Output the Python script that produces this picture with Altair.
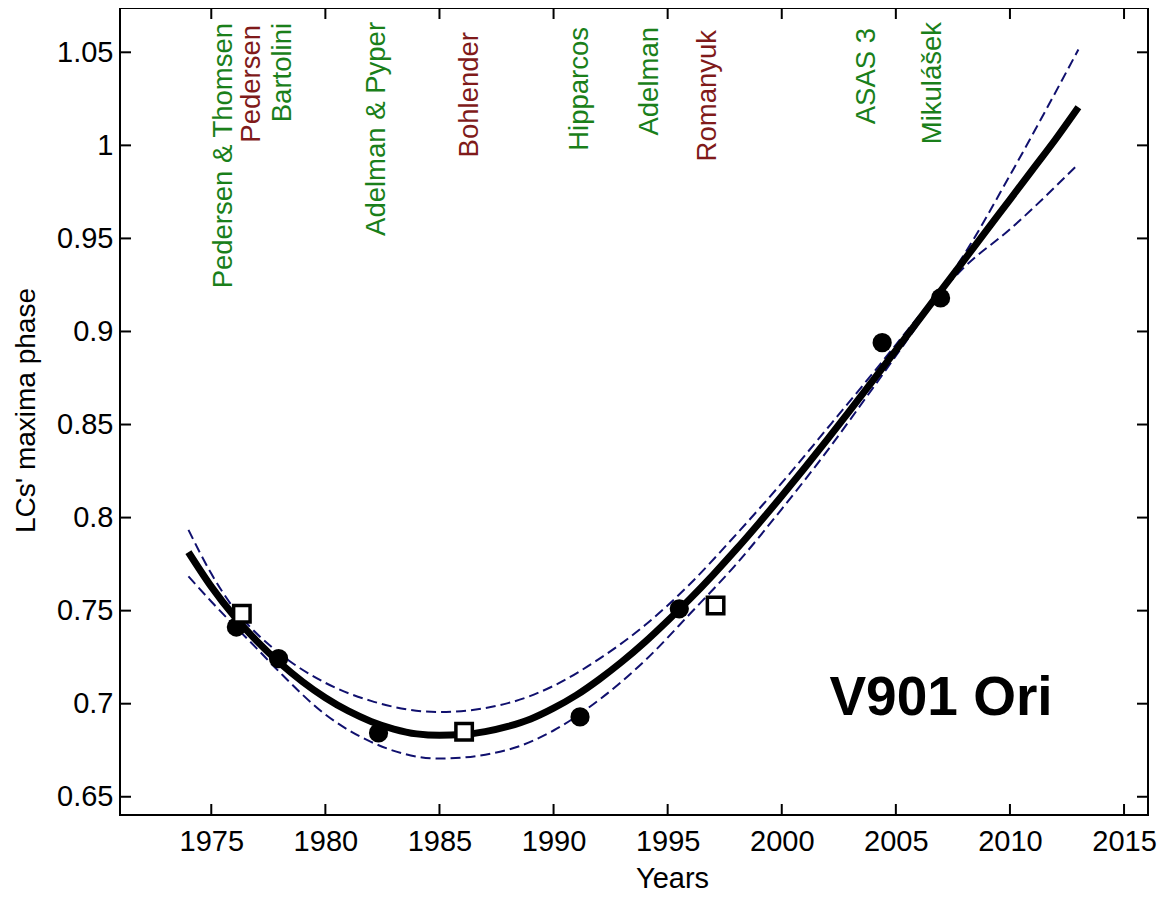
import altair as alt
import pandas as pd

# ---- data ----
fit_years = [1974, 1975, 1976, 1977, 1978, 1979, 1980, 1981, 1982, 1983, 1984, 1985,
             1986, 1987, 1988, 1989, 1990, 1991, 1992, 1993, 1994, 1995, 1996, 1997,
             1998, 1999, 2000, 2001, 2002, 2003, 2004, 2005, 2006, 2007, 2008, 2009,
             2010, 2011, 2012, 2013]
fit_values = [0.7814, 0.7629, 0.7471, 0.7336, 0.7219, 0.7118, 0.7032, 0.6961, 0.6905,
              0.6864, 0.6838, 0.6830, 0.6834, 0.6850, 0.6878, 0.6918, 0.6976, 0.7046,
              0.7131, 0.7226, 0.7331, 0.7446, 0.7566, 0.7694, 0.7829, 0.7970, 0.8116,
              0.8266, 0.8420, 0.8577, 0.8737, 0.8899, 0.9061, 0.9223, 0.9385, 0.9547,
              0.9709, 0.9871, 1.0033, 1.0205]

band_years = [1974, 1975, 1976, 1977, 1978, 1980, 1982, 1985, 1988, 1990, 1992, 1994,
              1996, 1998, 2000, 2002, 2004, 2006, 2007, 2008, 2010, 2013]
band_upper = [0.7934, 0.7699, 0.7511, 0.7376, 0.7269, 0.7112, 0.7015, 0.6955, 0.7003,
              0.7096, 0.7241, 0.7421, 0.7646, 0.7909, 0.8186, 0.8480, 0.8777, 0.9081,
              0.9233, 0.9415, 0.9839, 1.0515]
band_lower = [0.7684, 0.7549, 0.7421, 0.7296, 0.7169, 0.6942, 0.6795, 0.6705, 0.6753,
              0.6856, 0.7021, 0.7231, 0.7486, 0.7749, 0.8046, 0.8360, 0.8697, 0.9041,
              0.9213, 0.9345, 0.9549, 0.9900]

circle_years = [1976.1, 1977.95, 1982.33, 1991.16, 1995.51, 2004.4, 2006.96]
circle_values = [0.7412, 0.7242, 0.6843, 0.6929, 0.7510, 0.8940, 0.9180]

square_years = [1976.34, 1986.08, 1997.1]
square_values = [0.7483, 0.6849, 0.7528]

label_names = ["Pedersen & Thomsen", "Pedersen", "Bartolini", "Adelman & Pyper",
               "Bohlender", "Hipparcos", "Adelman", "Romanyuk", "ASAS 3", "Mikulášek"]
label_years = [1975.57, 1976.8, 1978.15, 1982.27, 1986.34, 1991.16, 1994.23, 1996.77,
               2003.73, 2006.62]
label_tops = [1.0658, 1.0647, 1.0658, 1.0663, 1.0609, 1.0636, 1.0636, 1.0620, 1.0631,
              1.0663]
label_kind = ["lc", "sq", "lc", "lc", "sq", "lc", "lc", "sq", "lc", "lc"]

star_name = ["V901 Ori"]
star_year = [2006.98]
star_value = [0.6939]

x_ticks = [1975, 1980, 1985, 1990, 1995, 2000, 2005, 2010, 2015]
y_ticks = [0.65, 0.7, 0.75, 0.8, 0.85, 0.9, 0.95, 1.0, 1.05]

# ---- tables ----
fit_df = pd.DataFrame({"year": fit_years, "value": fit_values})
band_df = pd.concat([
    pd.DataFrame({"year": band_years, "value": band_upper, "side": "upper"}),
    pd.DataFrame({"year": band_years, "value": band_lower, "side": "lower"}),
])
circ_df = pd.DataFrame({"year": circle_years, "value": circle_values})
sq_df = pd.DataFrame({"year": square_years, "value": square_values})
lab_df = pd.DataFrame({"name": label_names, "year": label_years, "value": label_tops,
                       "kind": label_kind})
star_df = pd.DataFrame({"name": star_name, "year": star_year, "value": star_value})
xt_df = pd.DataFrame({"year": x_ticks})
yt_df = pd.DataFrame({"value": y_ticks})

W, H = 1028, 807
FONT = "Liberation Sans"
xs = alt.Scale(domain=[1971.0, 2016.05], nice=False, zero=False)
ys = alt.Scale(domain=[0.6402, 1.0738], nice=False, zero=False)

x_axis = alt.Axis(values=x_ticks, format="d", labelFontSize=29, labelColor="black",
                  labelPadding=12, labelFlush=False, title="Years", titleFontSize=29,
                  titleFontWeight="normal", titleColor="black", titleX=552, titleY=72,
                  titleBaseline="alphabetic", titleAlign="center", grid=False,
                  domain=False, ticks=False, labelFont=FONT, titleFont=FONT)
y_axis = alt.Axis(values=y_ticks, format="~g", labelFontSize=29, labelColor="black",
                  labelPadding=7, labelFlush=False, title="LCs' maxima phase",
                  titleFontSize=28, titleFontWeight="normal", titleColor="black",
                  titleAngle=270, titleX=-94, titleY=402, titleAlign="center",
                  titleBaseline="middle", grid=False, domain=False, ticks=False,
                  labelFont=FONT, titleFont=FONT)

X = alt.X("year:Q", scale=xs, axis=x_axis)
Y = alt.Y("value:Q", scale=ys, axis=y_axis)

band = alt.Chart(band_df).mark_line(
    color="#10106e", strokeWidth=2, strokeDash=[10, 5], interpolate="monotone"
).encode(x=X, y=Y, detail="side:N")

fit = alt.Chart(fit_df).mark_line(
    color="black", strokeWidth=7, interpolate="monotone", strokeCap="butt"
).encode(x=X, y=Y)

circles = alt.Chart(circ_df).mark_point(
    shape="circle", filled=True, color="black", size=370, opacity=1
).encode(x=X, y=Y)

squares = alt.Chart(sq_df).mark_point(
    shape="square", filled=False, fill="white", fillOpacity=1, stroke="black",
    strokeWidth=3.5, size=270, opacity=1
).encode(x=X, y=Y)

labels = alt.Chart(lab_df).mark_text(
    angle=270, align="right", baseline="middle", fontSize=27.5, font=FONT
).encode(
    x=X, y=Y, text="name:N",
    color=alt.Color("kind:N", scale=alt.Scale(domain=["lc", "sq"],
                                              range=["#1a7f1a", "#7f1a1a"]),
                    legend=None),
)

star = alt.Chart(star_df).mark_text(
    align="center", baseline="alphabetic", fontSize=55, fontWeight="bold",
    font=FONT, color="black"
).encode(x=X, y=Y, text="name:N")

TL = 11
xt_bottom = alt.Chart(xt_df).mark_rule(color="black", strokeWidth=2).encode(
    x=X, y=alt.value(H), y2=alt.value(H - TL))
xt_top = alt.Chart(xt_df).mark_rule(color="black", strokeWidth=2).encode(
    x=X, y=alt.value(0), y2=alt.value(TL))
yt_left = alt.Chart(yt_df).mark_rule(color="black", strokeWidth=2).encode(
    y=Y, x=alt.value(0), x2=alt.value(TL))
yt_right = alt.Chart(yt_df).mark_rule(color="black", strokeWidth=2).encode(
    y=Y, x=alt.value(W), x2=alt.value(W - TL))

chart = alt.layer(
    band, fit, circles, squares, labels, star, xt_bottom, xt_top, yt_left, yt_right
).properties(
    width=W, height=H,
    padding={"left": 112, "top": 0, "right": 15, "bottom": 80},
    autosize=alt.AutoSizeParams(type="none"),
    background="white",
).configure_view(
    stroke="black", strokeWidth=2
)

chart.save("out.html", embed_options={"renderer": "svg", "actions": False})
